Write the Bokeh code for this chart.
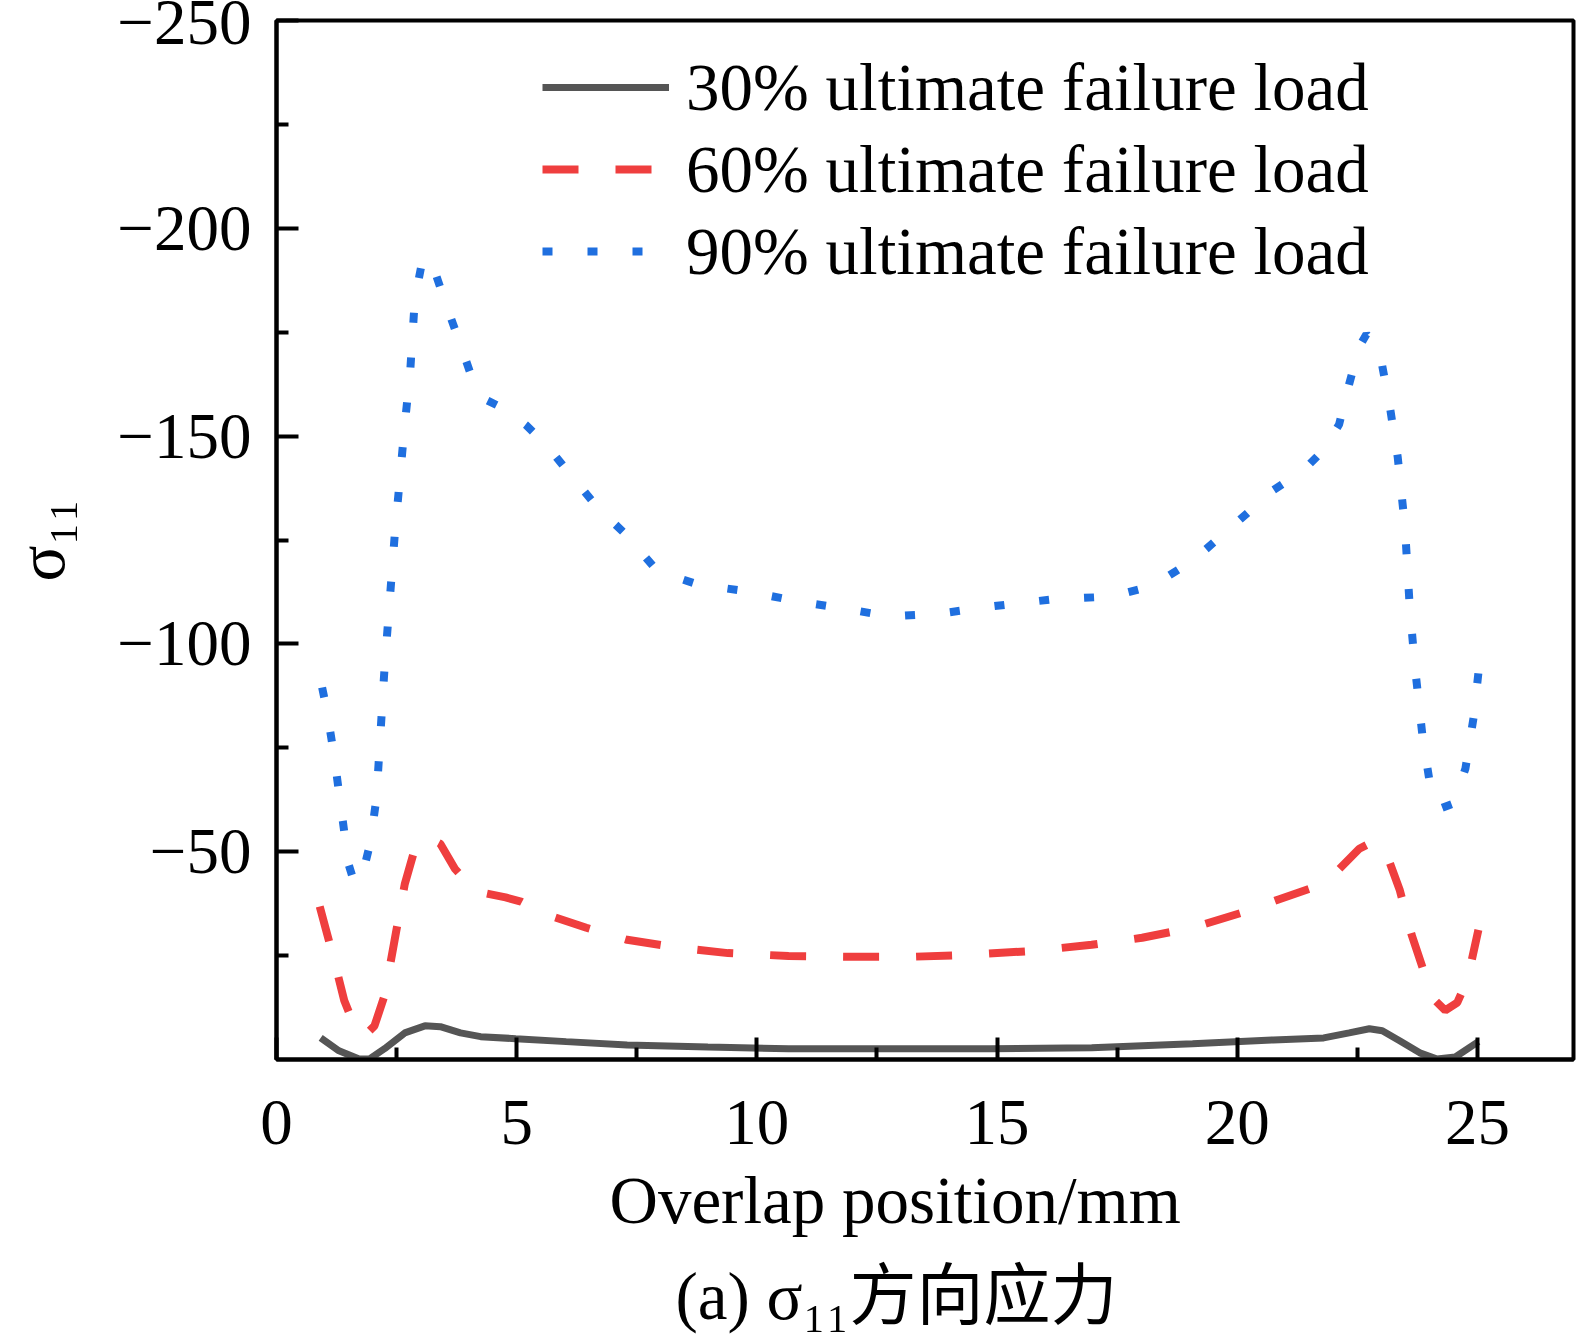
from bokeh.plotting import figure
from bokeh.models import Range1d, FixedTicker, Legend, LegendItem, Title
from bokeh.embed import file_html
from bokeh.resources import INLINE

# ---------------- data ----------------
series_names = ["30% ultimate failure load", "60% ultimate failure load", "90% ultimate failure load"]

x30 = [0.92, 1.3, 1.72, 1.93, 2.25, 2.67, 3.09, 3.41, 3.83, 4.25, 4.98, 6.03, 7.3, 8.98,
       10.66, 12.76, 14.87, 16.97, 19.07, 20.75, 21.8, 22.33, 22.75, 23.02, 23.38, 23.8,
       24.16, 24.54, 25.02]
y30 = [-5.2, -2.1, -0.1, -0.1, -2.6, -6.4, -8.1, -7.9, -6.4, -5.5, -5.0, -4.3, -3.5, -3.0,
       -2.6, -2.6, -2.6, -2.8, -3.8, -4.7, -5.2, -6.4, -7.4, -6.9, -4.5, -1.6,
       -0.1, -0.6, -4.3]

x60 = [0.9, 1.03, 1.2, 1.41, 1.62, 1.83, 2.04, 2.25, 2.46, 2.67, 2.88, 3.13, 3.41, 3.72,
       4.14, 4.77, 5.09, 5.61, 6.45, 7.3, 8.35, 9.4, 10.66, 12.13, 13.18, 14.44, 15.71,
       16.97, 18.02, 19.07, 20.12, 20.86, 21.59, 22.12, 22.54, 22.86, 23.11, 23.38, 23.63,
       23.91, 24.12, 24.33, 24.58, 24.79, 25.02]
y60 = [-36.8, -31.2, -23.9, -14.2, -8.1, -5.7, -8.1, -15.4, -28.8, -42.2, -50.7, -53.6,
       -51.9, -45.8, -40.5, -39.0, -38.0, -34.9, -31.7, -28.8, -26.9, -25.6, -24.9, -24.7,
       -24.7, -25.2, -26.1, -27.6, -29.3, -31.7, -35.4, -38.5, -41.4, -45.8, -50.7, -52.6,
       -49.4, -40.9, -30.0, -20.3, -14.2, -11.8, -13.7, -19.1, -31.2]

x90 = [0.95, 1.05, 1.2, 1.35, 1.5, 1.62, 1.78, 1.95, 2.08, 2.25, 2.46, 2.67, 2.78, 2.88,
       3.05, 3.3, 3.55, 3.83, 4.04, 4.35, 4.77, 5.19, 5.61, 6.03, 6.67, 7.3, 7.93, 8.77,
       9.82, 10.87, 11.92, 12.76, 13.81, 14.87, 16.13, 17.39, 18.23, 19.07, 19.91, 20.75,
       21.38, 21.8, 22.12, 22.33, 22.54, 22.69, 22.96, 23.17, 23.34, 23.49, 23.59, 23.7,
       23.86, 24.01, 24.22, 24.5, 24.75, 24.92, 25.02]
y90 = [-89.5, -84.0, -73.0, -60.0, -47.0, -42.5, -44.0, -52.0, -62.8, -94.4, -126.0,
       -152.8, -165.0, -183.0, -193.0, -189.5, -181.0, -172.0, -165.0, -158.8, -156.4,
       -152.7, -148.0, -142.0, -133.0, -126.0, -117.5, -114.3, -112.6, -110.2, -108.3,
       -106.6, -107.3, -109.0, -110.7, -111.4, -113.9, -120.0, -128.4, -137.0, -141.8,
       -146.7, -152.8, -162.5, -171.5, -174.5, -170.5, -157.6, -145.0, -128.4, -109.0,
       -94.4, -77.4, -66.5, -60.4, -61.6, -70.0, -82.3, -93.0]

x_ticks = [0, 5, 10, 15, 20, 25]
x_minor = [2.5, 7.5, 12.5, 17.5, 22.5]
y_ticks = [-250, -200, -150, -100, -50]
y_minor = [-225, -175, -125, -75, -25]
y_tick_labels = ["\u2212250", "\u2212200", "\u2212150", "\u2212100", "\u221250"]

x_title = "Overlap position/mm"
y_title = "\u03c3\u2081\u2081"
caption = "(a) \u03c3\u2081\u2081方向应力"

# ---------------- layout ----------------
W, H = 1580, 1344
FL, FR, FT, FB = 276, 1573, 20, 1059

SERIF = "Liberation Serif"
MIXED = "Liberation Serif, Noto Sans CJK SC"

p = figure(width=W, height=H, output_backend="svg", toolbar_location=None, title=None,
           x_range=Range1d(0, 27), y_range=Range1d(0, -250),
           min_border_left=FL, min_border_right=W - FR,
           min_border_top=FT, min_border_bottom=H - FB)
p.background_fill_color = "white"
p.border_fill_color = "white"
p.outline_line_color = "black"
p.outline_line_width = 4
p.xgrid.visible = False
p.ygrid.visible = False

for ax in (p.xaxis[0], p.yaxis[0]):
    ax.axis_line_width = 4
    ax.axis_line_color = "black"
    ax.major_tick_line_width = 4
    ax.minor_tick_line_width = 4
    ax.major_tick_in = 22
    ax.major_tick_out = 0
    ax.minor_tick_in = 12
    ax.minor_tick_out = 0
    ax.major_label_text_font = SERIF
    ax.major_label_text_font_size = "65px"
    ax.major_label_text_color = "black"

p.xaxis.ticker = FixedTicker(ticks=x_ticks, minor_ticks=x_minor)
p.yaxis.ticker = FixedTicker(ticks=y_ticks, minor_ticks=y_minor)
p.yaxis.major_label_overrides = {v: s for v, s in zip(y_ticks, y_tick_labels)}
p.xaxis.major_label_standoff = 41
p.yaxis.major_label_standoff = 25

p.yaxis.axis_label = y_title
p.yaxis.axis_label_text_font = SERIF
p.yaxis.axis_label_text_font_size = "67px"
p.yaxis.axis_label_text_font_style = "normal"
p.yaxis.axis_label_text_color = "black"
p.yaxis.axis_label_standoff = 36

r30 = p.line(x30, y30, line_color="#555555", line_width=7)
r60 = p.line(x60, y60, line_color="#EF3E3E", line_width=8, line_dash="36 37")
r90 = p.line(x90, y90, line_color="#1F6FDF", line_width=8, line_dash="10 35")

legend = Legend(items=[LegendItem(label=series_names[0], renderers=[r30]),
                       LegendItem(label=series_names[1], renderers=[r60]),
                       LegendItem(label=series_names[2], renderers=[r90])],
                location=(266, 767))
legend.border_line_color = None
legend.background_fill_alpha = 0
legend.padding = 0
legend.margin = 0
legend.spacing = 0
legend.glyph_width = 127
legend.glyph_height = 82
legend.label_height = 82
legend.label_standoff = 17
legend.label_text_font = SERIF
legend.label_text_font_size = "67px"
legend.label_text_color = "black"
p.add_layout(legend)

# x-axis title and caption below the axis, left aligned with pixel offsets
t_x = Title(text=x_title, align="left", offset=333, standoff=28,
            text_font=SERIF, text_font_size="67px", text_font_style="normal",
            text_color="black")
t_cap = Title(text=caption, align="left", offset=399, standoff=12,
              text_font=MIXED, text_font_size="67px", text_font_style="normal",
              text_color="black")
p.add_layout(t_x, "below")
p.add_layout(t_cap, "below")

open("out.html", "w").write(file_html(p, INLINE))
